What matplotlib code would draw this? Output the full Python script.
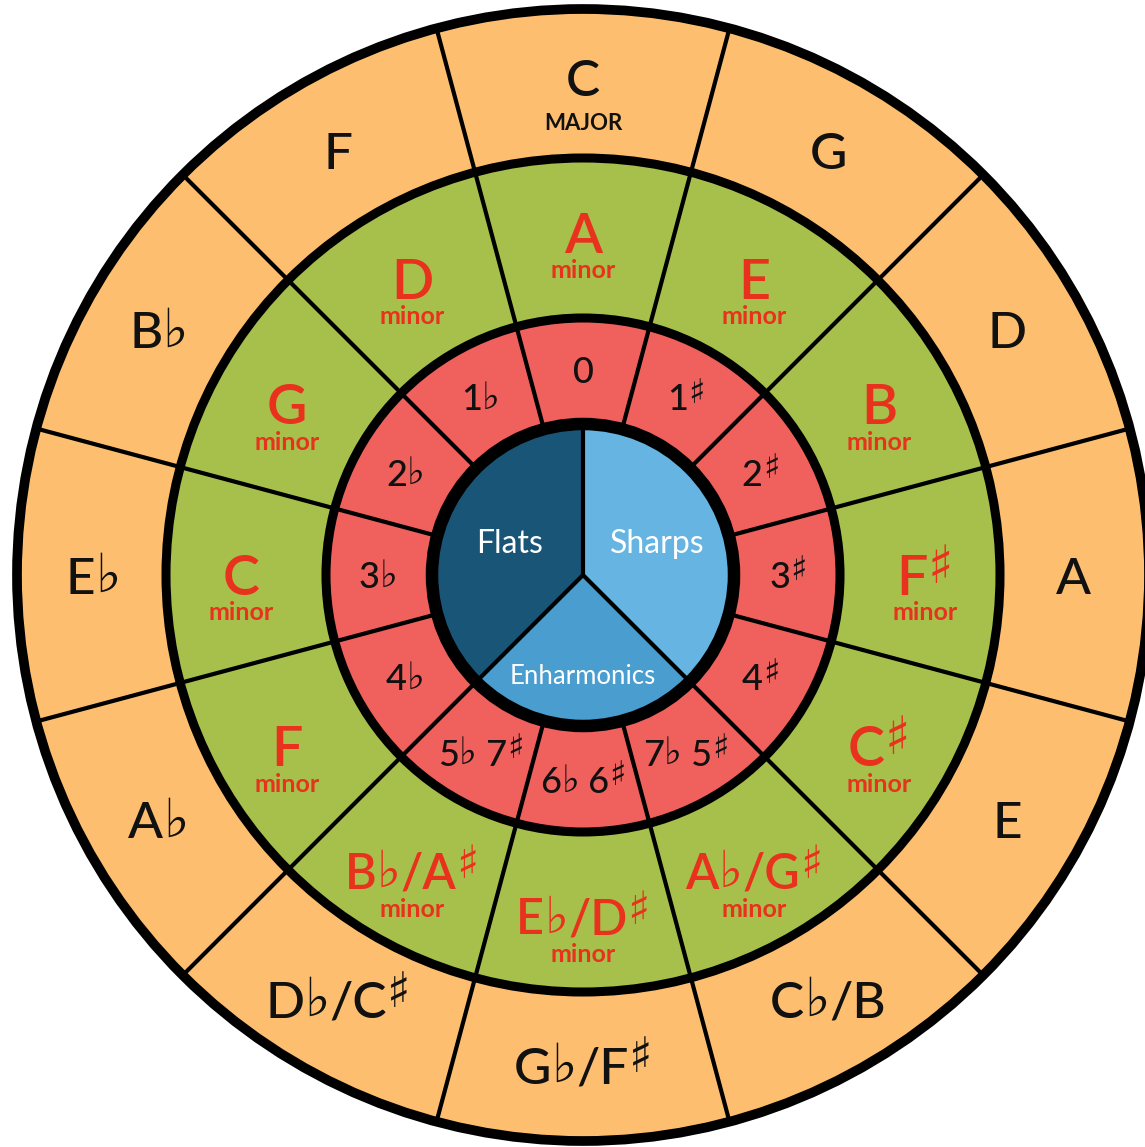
import numpy as np
import matplotlib.pyplot as plt
from matplotlib.patches import Wedge, Circle

# keys clockwise from the top
majors = ["C", "G", "D", "A", "E", "C♭/B", "G♭/F♯", "D♭/C♯", "A♭", "E♭", "B♭", "F"]
minors = ["A", "E", "B", "F♯", "C♯", "A♭/G♯", "E♭/D♯", "B♭/A♯", "F", "C", "G", "D"]
signatures = ["0", "1♯", "2♯", "3♯", "4♯", "7♭ 5♯", "6♭ 6♯", "5♭ 7♯", "4♭", "3♭", "2♭", "1♭"]

# centre pie: name and angular share (degrees), counter-clockwise from the top
pie_names = ["Flats", "Enharmonics", "Sharps"]
pie_shares = [135, 90, 135]

FONT = "Lato"
ORANGE = "#FDBF6F"
GREEN = "#A6C04B"
RED = "#F0605C"
TEXT_RED = "#E8321E"
BLUES = ["#195577", "#4A9DCF", "#66B4E1"]

R_BLUE, R_RED, R_GREEN, R_OUT = 151, 257, 417, 566

fig = plt.figure(figsize=(11.45, 11.47), dpi=100)
ax = fig.add_axes([0, 0, 1, 1])
ax.set_xlim(-583, 562)
ax.set_ylim(-572, 575)
ax.set_aspect("equal")
ax.axis("off")
renderer = fig.canvas.get_renderer()


def put_label(x, y, label, size, color, weight="normal"):
    # plain text runs, with flats and sharps set like in print
    runs = []
    for ch in label:
        if ch in "♭♯" or not runs or runs[-1] in "♭♯":
            runs.append(ch)
        else:
            runs[-1] += ch
    cap = size * 0.72 * 100 / 72
    pieces, width = [], 0
    for run in runs:
        if run == "♭":
            t = ax.text(0, 0, run, fontsize=size * 1.05, family="DejaVu Sans",
                        color=color, ha="left", va="baseline", zorder=10)
            rise = cap * 0.06
        elif run == "♯":
            t = ax.text(0, 0, run, fontsize=size * 0.95, family="DejaVu Sans",
                        weight="bold", color=color, ha="left", va="baseline", zorder=10)
            rise = cap * 0.3
        else:
            t = ax.text(0, 0, run, fontsize=size, family=FONT, weight=weight,
                        color=color, ha="left", va="baseline", zorder=10)
            rise = 0
        w = t.get_window_extent(renderer).width
        pieces.append((t, w, rise))
        width += w
    left = x - width / 2
    base = y - cap / 2
    for t, w, rise in pieces:
        t.set_position((left, base + rise))
        left += w


# ring fills
for k in range(12):
    a1 = 90 - 15 - 30 * k
    a2 = 90 + 15 - 30 * k
    ax.add_patch(Wedge((0, 0), R_OUT, a1, a2, width=R_OUT - R_GREEN, color=ORANGE, lw=0))
    ax.add_patch(Wedge((0, 0), R_GREEN, a1, a2, width=R_GREEN - R_RED, color=GREEN, lw=0))
    ax.add_patch(Wedge((0, 0), R_RED, a1, a2, width=R_RED - R_BLUE, color=RED, lw=0))

start = 90
for name, share, col in zip(pie_names, pie_shares, BLUES):
    ax.add_patch(Wedge((0, 0), R_BLUE, start, start + share, color=col, lw=0))
    start += share

# dividing lines
for k in range(12):
    a = np.radians(90 + 15 - 30 * k)
    ax.plot([R_BLUE * np.cos(a), R_OUT * np.cos(a)], [R_BLUE * np.sin(a), R_OUT * np.sin(a)],
            color="black", lw=3, solid_capstyle="butt", zorder=3)
start = 90
for share in pie_shares:
    a = np.radians(start)
    ax.plot([0, R_BLUE * np.cos(a)], [0, R_BLUE * np.sin(a)], color="black", lw=3,
            solid_capstyle="butt", zorder=3)
    start += share

for r, lw in [(R_BLUE, 9), (R_RED, 6.5), (R_GREEN, 6.5), (R_OUT, 7)]:
    ax.add_patch(Circle((0, 0), r, fill=False, ec="black", lw=lw, zorder=4))

# labels
for k in range(12):
    a = np.radians(90 - 30 * k)
    c, s = np.cos(a), np.sin(a)
    if k == 0:
        put_label(497 * c, 497 * s, majors[k], 37, "#111111", weight="medium")
        ax.text(0, 452, "MAJOR", fontsize=16, family=FONT, weight="bold", color="#111111",
                ha="center", va="center", zorder=10)
    else:
        put_label(490 * c, 490 * s, majors[k], 37, "#111111", weight="medium")

    size = 40 if len(minors[k]) <= 2 else 35
    put_label(342 * c, 342 * s, minors[k], size, TEXT_RED, weight="semibold")
    ax.text(342 * c, 342 * s - 38, "minor", fontsize=18, family=FONT, weight="bold",
            color=TEXT_RED, ha="center", va="center", zorder=10)

    put_label(205 * c, 205 * s, signatures[k], 26, "#111111", weight="medium")

start = 90
for name, share in zip(pie_names, pie_shares):
    a = np.radians(start + share / 2)
    if name == "Enharmonics":
        ax.text(102 * np.cos(a), 102 * np.sin(a), name, fontsize=18.5, family=FONT,
                color="white", ha="center", va="center", zorder=10)
    else:
        ax.text(80 * np.cos(a), 80 * np.sin(a), name, fontsize=23, family=FONT,
                color="white", ha="center", va="center", zorder=10)
    start += share

fig.savefig("out.png", dpi=100)
